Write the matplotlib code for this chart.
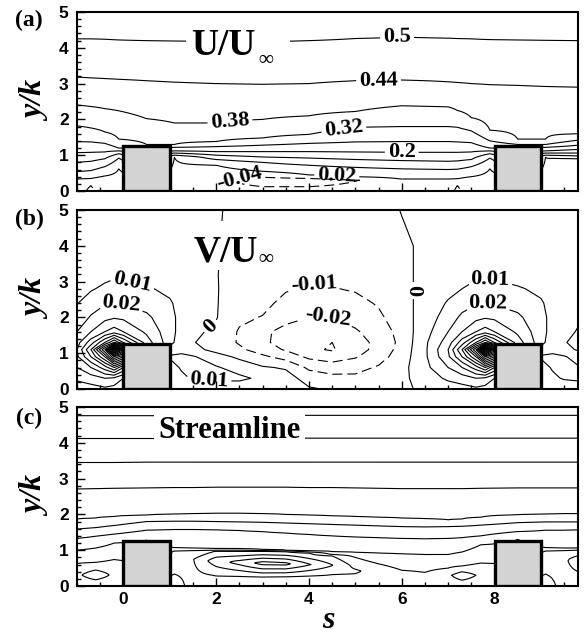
import numpy as np
import matplotlib
matplotlib.use("Agg")
import matplotlib.pyplot as plt
from matplotlib.patches import Rectangle
from matplotlib.ticker import MultipleLocator

# ---------- (a) mean streamwise velocity U/U_inf ----------
# stations along s, value at the wall and at y/k = 0.3,
# then the height of every iso-line of u_levels at that station
u_x = [-1, -0.7, -0.4, -0.1, 0.5, 1.1, 2, 3, 4, 5, 6, 7, 7.2, 7.5, 7.9, 8.5, 9.1, 9.8]
u_wall = [-0.02, -0.05, -0.01, 0.0, 0.0, 0.0, -0.01, -0.02, -0.02, -0.02, -0.01, -0.02, -0.05, -0.01, 0.0, 0.0, 0.0, 0.0]
u_near = [-0.02, -0.03, -0.01, 0.0, 0.0, 0.0, -0.03, -0.07, -0.07, -0.042, -0.02, -0.02, -0.03, -0.01, 0.0, 0.0, 0.0, 0.0]
u_levels = [0.02, 0.08, 0.14, 0.2, 0.26, 0.32, 0.38, 0.44, 0.5]
u_heights = [
    [0.33, 0.54, 0.80, 1.07, 1.38, 1.82, 2.40, 3.18, 4.25],
    [0.35, 0.57, 0.83, 1.08, 1.37, 1.76, 2.36, 3.16, 4.25],
    [0.42, 0.68, 0.90, 1.09, 1.33, 1.65, 2.30, 3.14, 4.24],
    [0.62, 0.92, 1.04, 1.12, 1.20, 1.45, 2.24, 3.12, 4.22],
    [0.40, 0.60, 0.80, 1.00, 1.20, 1.30, 2.02, 3.08, 4.20],
    [0.94, 1.00, 1.06, 1.12, 1.22, 1.30, 1.90, 3.04, 4.19],
    [0.72, 0.88, 1.00, 1.10, 1.24, 1.38, 1.90, 3.00, 4.18],
    [0.55, 0.80, 0.95, 1.10, 1.28, 1.48, 2.00, 2.98, 4.17],
    [0.45, 0.72, 0.92, 1.10, 1.33, 1.58, 2.10, 3.00, 4.20],
    [0.40, 0.66, 0.88, 1.09, 1.37, 1.78, 2.22, 3.08, 4.26],
    [0.33, 0.62, 0.85, 1.08, 1.38, 1.80, 2.38, 3.10, 4.30],
    [0.33, 0.60, 0.83, 1.08, 1.38, 1.80, 2.35, 3.05, 4.27],
    [0.34, 0.61, 0.84, 1.08, 1.37, 1.78, 2.25, 3.03, 4.26],
    [0.40, 0.68, 0.88, 1.09, 1.35, 1.68, 2.05, 3.00, 4.25],
    [0.62, 0.92, 1.04, 1.12, 1.20, 1.40, 1.70, 2.97, 4.23],
    [0.40, 0.60, 0.80, 1.00, 1.20, 1.30, 1.45, 2.95, 4.22],
    [0.94, 1.00, 1.06, 1.12, 1.22, 1.30, 1.45, 2.92, 4.21],
    [0.90, 0.98, 1.06, 1.16, 1.28, 1.42, 1.60, 2.90, 4.20],
]
u_free = 0.56
u_labels = [-0.04, 0.02, 0.2, 0.32, 0.38, 0.44, 0.5]

# ---------- (b) mean wall-normal velocity V/U_inf ----------
v_x = [-1, -0.7, -0.4, -0.2, 0, 0.5, 1, 1.25, 1.5, 2, 2.5, 3, 3.5, 4, 4.5,
       5, 5.5, 6, 6.5, 7, 7.3, 7.6, 7.8, 8, 8.5, 9, 9.25, 9.5, 9.8]
v_y = [0, 0.3, 0.6, 0.9, 1.1, 1.3, 1.6, 2.0, 2.4, 2.8, 3.2, 4.0, 5.0]
v_profiles = [
    [0.004, 0.012, 0.02, 0.028, 0.03, 0.026, 0.02, 0.014, 0.0095, 0.007, 0.004, 0.002, 0.001],
    [0.006, 0.015, 0.03, 0.05, 0.06, 0.045, 0.03, 0.021, 0.015, 0.009, 0.006, 0.003, 0.001],
    [0.008, 0.02, 0.045, 0.08, 0.11, 0.07, 0.04, 0.027, 0.019, 0.012, 0.007, 0.003, 0.001],
    [0.006, 0.018, 0.06, 0.12, 0.2, 0.09, 0.045, 0.029, 0.02, 0.014, 0.008, 0.003, 0.001],
    [0.0, 0.01, 0.04, 0.1, 0.15, 0.07, 0.04, 0.028, 0.019, 0.013, 0.008, 0.003, 0.001],
    [0.0, 0.0, 0.01, 0.03, 0.04, 0.035, 0.028, 0.022, 0.016, 0.011, 0.006, 0.003, 0.001],
    [0.0, 0.003, 0.006, 0.011, 0.006, 0.014, 0.014, 0.013, 0.011, 0.008, 0.005, 0.003, 0.001],
    [0.002, 0.008, 0.011, 0.013, 0.006, 0.003, 0.006, 0.007, 0.007, 0.006, 0.004, 0.002, 0.001],
    [0.003, 0.011, 0.012, 0.011, 0.003, 0.0005, 0.002, 0.003, 0.003, 0.003, 0.002, 0.001, 0.0005],
    [0.004, 0.012, 0.011, 0.004, -0.003, -0.004, -0.002, 0.0005, 0.0005, 0.0005, 0.0003, 0.0002, 0.0002],
    [0.004, 0.012, 0.006, -0.002, -0.008, -0.011, -0.011, -0.008, -0.005, -0.004, -0.003, -0.001, -0.0005],
    [0.003, 0.008, 0.001, -0.008, -0.015, -0.018, -0.018, -0.0105, -0.007, -0.005, -0.004, -0.003, -0.002],
    [0.002, 0.004, -0.001, -0.014, -0.021, -0.024, -0.023, -0.017, -0.013, -0.009, -0.006, -0.004, -0.002],
    [0.001, -0.004, -0.012, -0.022, -0.028, -0.029, -0.026, -0.02, -0.015, -0.011, -0.008, -0.004, -0.002],
    [-0.001, -0.007, -0.015, -0.025, -0.031, -0.03, -0.026, -0.02, -0.015, -0.0105, -0.008, -0.004, -0.002],
    [-0.002, -0.008, -0.013, -0.021, -0.024, -0.023, -0.021, -0.017, -0.013, -0.009, -0.007, -0.004, -0.002],
    [-0.002, -0.006, -0.009, -0.014, -0.017, -0.018, -0.016, -0.012, -0.009, -0.006, -0.005, -0.003, -0.002],
    [-0.001, -0.002, -0.003, -0.005, -0.006, -0.007, -0.006, -0.004, -0.003, -0.002, -0.002, -0.001, 0.0002],
    [0.001, 0.004, 0.007, 0.008, 0.008, 0.008, 0.006, 0.004, 0.003, 0.002, 0.002, 0.001, 0.001],
    [0.004, 0.012, 0.02, 0.028, 0.03, 0.025, 0.02, 0.015, 0.011, 0.007, 0.004, 0.002, 0.001],
    [0.006, 0.015, 0.03, 0.05, 0.06, 0.045, 0.03, 0.022, 0.016, 0.01, 0.006, 0.003, 0.001],
    [0.008, 0.02, 0.045, 0.08, 0.11, 0.07, 0.04, 0.027, 0.019, 0.013, 0.008, 0.003, 0.001],
    [0.006, 0.018, 0.06, 0.12, 0.2, 0.09, 0.045, 0.029, 0.02, 0.014, 0.008, 0.003, 0.001],
    [0.0, 0.01, 0.04, 0.1, 0.15, 0.07, 0.04, 0.028, 0.019, 0.013, 0.008, 0.003, 0.001],
    [0.0, 0.0, 0.01, 0.03, 0.04, 0.035, 0.028, 0.022, 0.016, 0.011, 0.006, 0.003, 0.001],
    [0.0, 0.003, 0.006, 0.011, 0.006, 0.014, 0.014, 0.013, 0.011, 0.008, 0.005, 0.003, 0.001],
    [0.002, 0.008, 0.011, 0.013, 0.006, 0.003, 0.006, 0.007, 0.007, 0.006, 0.004, 0.002, 0.001],
    [0.003, 0.011, 0.012, 0.011, 0.003, 0.0005, 0.002, 0.003, 0.003, 0.003, 0.002, 0.001, 0.001],
    [0.004, 0.012, 0.011, 0.006, -0.001, -0.002, -0.0005, 0.001, 0.002, 0.002, 0.002, 0.001, 0.001],
]
v_labels = [-0.02, -0.01, 0.0, 0.01, 0.02]

# ---------- (c) streamlines (stream function) ----------
psi_x = [-1, -0.6, -0.2, 0.5, 1.1, 1.5, 2, 2.5, 3, 3.5, 4, 4.5, 5, 5.5,
         6, 6.5, 7, 7.3, 7.7, 8.5, 9.1, 9.5, 9.8]
# (y, psi) pairs between the wall and the psi = 0 line: recirculation cells
psi_near = [
    [(0, -0.3), (0.3, -0.8)],
    [(0, -0.3), (0.32, -1.6)],
    [(0, -0.3), (0.3, -0.8)],
    [(0, -0.3), (0.3, -0.5)],
    [(0, -1.5), (0.4, -0.9)],
    [(0, -0.6), (0.75, -0.95)],
    [(0, -0.3), (0.3, -1.05), (0.7, -2.6), (0.97, -1.05)],
    [(0, -0.3), (0.27, -1.0), (0.66, -3.4), (0.97, -1.0)],
    [(0, -0.3), (0.25, -1.0), (0.64, -4.4), (0.97, -1.0)],
    [(0, -0.3), (0.26, -1.0), (0.62, -4.3), (0.96, -1.0)],
    [(0, -0.3), (0.28, -1.0), (0.6, -3.1), (0.92, -1.0)],
    [(0, -0.3), (0.32, -1.0), (0.58, -2.05), (0.84, -1.0)],
    [(0, -0.3), (0.42, -1.15)],
    [(0, -0.3), (0.4, -0.6)],
    [(0, -0.3), (0.3, -0.4)],
    [(0, -0.3), (0.25, -0.4)],
    [(0, -0.3), (0.3, -0.8)],
    [(0, -0.3), (0.3, -1.6)],
    [(0, -0.3), (0.3, -0.8)],
    [(0, -0.3), (0.3, -0.5)],
    [(0, -1.5), (0.4, -0.9)],
    [(0, -0.6), (0.7, -0.8)],
    [(0, -0.3), (0.75, -1.6)],
]
# heights of psi = 0..8 at each station
psi_levels = [0, 1, 2, 3, 4, 5, 6, 7, 8]
psi_heights = [
    [0.63, 1.00, 1.33, 1.59, 1.87, 2.71, 3.45, 4.12, 4.76],
    [0.66, 1.06, 1.39, 1.63, 1.90, 2.72, 3.45, 4.12, 4.76],
    [0.74, 1.20, 1.45, 1.69, 1.94, 2.73, 3.45, 4.12, 4.76],
    [0.60, 1.28, 1.56, 1.80, 1.98, 2.74, 3.46, 4.12, 4.76],
    [0.98, 1.07, 1.58, 1.81, 2.01, 2.75, 3.46, 4.12, 4.76],
    [0.99, 1.06, 1.58, 1.81, 2.02, 2.75, 3.46, 4.13, 4.76],
    [1.00, 1.05, 1.57, 1.80, 2.03, 2.76, 3.46, 4.13, 4.77],
    [1.00, 1.04, 1.55, 1.79, 2.03, 2.76, 3.46, 4.13, 4.77],
    [0.99, 1.02, 1.52, 1.78, 2.02, 2.76, 3.46, 4.13, 4.77],
    [0.98, 1.00, 1.48, 1.76, 2.00, 2.76, 3.46, 4.13, 4.77],
    [0.95, 0.98, 1.44, 1.74, 1.98, 2.75, 3.46, 4.13, 4.77],
    [0.88, 0.96, 1.40, 1.72, 1.96, 2.75, 3.46, 4.13, 4.77],
    [0.80, 0.94, 1.37, 1.70, 1.94, 2.74, 3.46, 4.13, 4.77],
    [0.62, 0.92, 1.35, 1.68, 1.92, 2.73, 3.46, 4.13, 4.77],
    [0.44, 0.90, 1.33, 1.66, 1.90, 2.72, 3.46, 4.13, 4.77],
    [0.38, 0.88, 1.32, 1.65, 1.88, 2.72, 3.46, 4.13, 4.77],
    [0.50, 0.88, 1.33, 1.66, 1.85, 2.72, 3.46, 4.13, 4.77],
    [0.56, 0.95, 1.35, 1.67, 1.87, 2.72, 3.46, 4.13, 4.77],
    [0.64, 1.15, 1.40, 1.70, 1.92, 2.73, 3.46, 4.13, 4.77],
    [0.60, 1.30, 1.52, 1.77, 1.99, 2.74, 3.46, 4.13, 4.77],
    [0.98, 1.07, 1.56, 1.79, 2.01, 2.74, 3.46, 4.13, 4.77],
    [0.99, 1.06, 1.56, 1.79, 2.02, 2.74, 3.46, 4.13, 4.77],
    [1.00, 1.06, 1.57, 1.79, 2.02, 2.74, 3.46, 4.13, 4.77],
]
psi_free = 9.0

rib_left = [0, 8]
rib_width = 1.0
rib_height = 1.25

plt.rcParams["font.family"] = ["Liberation Serif", "DejaVu Serif"]
plt.rcParams["font.weight"] = "bold"

yf = np.linspace(0, 5, 401)


def station_field(knots_y, knots_v):
    # each column is one station, values follow the listed knots in y
    return np.column_stack([np.interp(yf, ky, kv) for ky, kv in zip(knots_y, knots_v)])


u_field = station_field(
    [[0, 0.3] + h + [5] for h in u_heights],
    [[w, n] + u_levels + [u_free] for w, n in zip(u_wall, u_near)])
psi_field = station_field(
    [[p[0] for p in near] + h + [5] for near, h in zip(psi_near, psi_heights)],
    [[p[1] for p in near] + psi_levels + [psi_free] for near in psi_near])
v_field = np.array(v_profiles).T


def level_text(v):
    return f"{v:g}"


def dash_styles(levels):
    return [(0, (9, 4.5)) if lv < 0 else "solid" for lv in levels]


def labelled_contours(ax, x, y, z, levels, labels, spots):
    # plain iso-lines first, then the labelled ones so only they get gaps
    plain = [lv for lv in levels if lv not in labels]
    ax.contour(x, y, z, levels=plain, colors="k", linewidths=0.8,
               linestyles=dash_styles(plain))
    cs = ax.contour(x, y, z, levels=labels, colors="k", linewidths=0.8,
                    linestyles=dash_styles(labels))
    ax.clabel(cs, fmt=level_text, fontsize=16, inline_spacing=3, manual=spots)


def field_name(ax, x, y, name, inf_x, inf_y, box):
    # white panel behind the name so the iso-lines stop short of it
    ax.add_patch(Rectangle((box[0], box[1]), box[2], box[3], fc="white",
                           ec="none", zorder=5.5))
    ax.text(x, y, name, fontsize=27, zorder=6)
    ax.text(inf_x, inf_y, "\u221e", fontsize=15, va="center", zorder=6)


fig = plt.figure(figsize=(5.84, 6.39), dpi=100)
W, H = 584.0, 639.0
axes = []
for top in (12, 210, 407):
    axes.append(fig.add_axes([77 / W, 1 - (top + 179) / H, 501 / W, 179 / H]))
ax_a, ax_b, ax_c = axes

# (a)
labelled_contours(ax_a, u_x, yf, u_field, [-0.04] + u_levels, u_labels,
                  [(5.9, 4.28), (5.5, 3.1), (2.3, 1.9), (4.75, 1.75), (6.0, 1.08),
                   (4.6, 0.42), (2.5, 0.3)])
field_name(ax_a, 1.47, 3.8, "U/U", 2.92, 3.66, (1.34, 3.45, 2.26, 1.1))

# (b)
v_levels = [round(k * 0.01, 2) for k in range(-3, 20)]
labelled_contours(ax_b, v_x, v_y, v_field, v_levels, v_labels,
                  [(0.2, 3.0), (-0.05, 2.35), (7.9, 2.95), (7.85, 2.3), (1.88, 1.75),
                   (6.35, 2.75), (4.1, 2.85), (4.4, 1.85), (1.85, 0.4)])
field_name(ax_b, 1.52, 3.56, "V/U", 2.9, 3.62, (1.45, 3.32, 2.05, 1.38))

# (c)
ax_c.contour(psi_x, yf, psi_field, levels=list(range(-4, 9)), colors="k",
             linewidths=0.8, linestyles="solid")
ax_c.text(0.76, 4.13, "Streamline", fontsize=22, zorder=6,
          bbox=dict(boxstyle="square,pad=0.15", fc="white", ec="none"))

for ax in axes:
    for x0 in rib_left:
        ax.add_patch(Rectangle((x0, 0), rib_width, rib_height, fc="#d3d3d3",
                               ec="k", lw=2.4, zorder=5))
    ax.set_xlim(-1, 9.8)
    ax.set_ylim(0, 5)
    ax.xaxis.set_major_locator(MultipleLocator(2))
    ax.xaxis.set_minor_locator(MultipleLocator(0.5))
    ax.yaxis.set_major_locator(MultipleLocator(1))
    ax.yaxis.set_minor_locator(MultipleLocator(0.2))
    ax.tick_params(which="both", direction="in", top=False, right=False,
                   labelsize=12.5, labelfontfamily="Liberation Sans", width=1)
    ax.tick_params(which="major", length=6)
    ax.tick_params(which="minor", length=3)
    ax.tick_params(axis="y", pad=6)
    ax.tick_params(axis="x", pad=4)
    for sp in ax.spines.values():
        sp.set_linewidth(1.5)
    if ax is not ax_c:
        ax.tick_params(labelbottom=False)

for lab, top in (("(a)", 20), ("(b)", 219), ("(c)", 418)):
    fig.text(29 / W, 1 - top / H, lab, ha="center", va="center", fontsize=17)
for top in (12, 210, 407):
    fig.text(37 / W, 1 - (top + 89.5) / H, "y/k", ha="center", va="center",
             rotation=90, fontsize=23, style="italic")
fig.text(328 / W, 1 - 620 / H, "s", ha="center", va="center", fontsize=23,
         style="italic")

fig.savefig("out.png", dpi=100)
